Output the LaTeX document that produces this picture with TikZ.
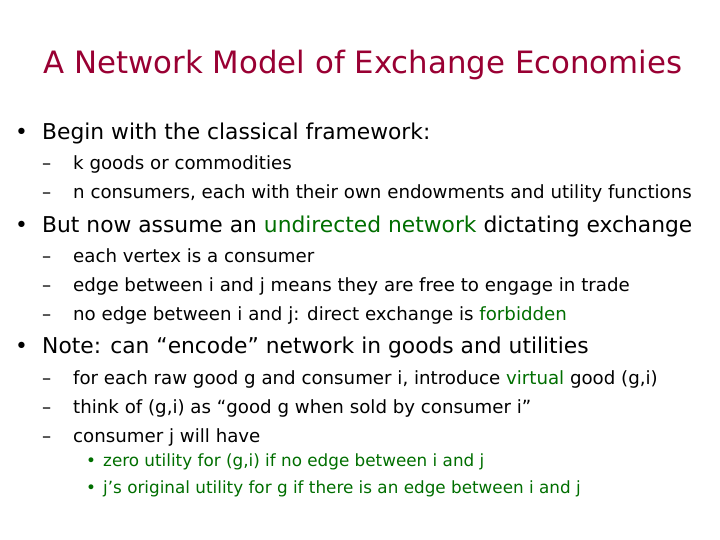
\documentclass[tikz,border=0pt]{standalone}
\usepackage{fontspec}
\setmainfont{DejaVu Sans}
\definecolor{ttl}{RGB}{153,0,51}
\definecolor{grn}{RGB}{0,110,0}
\begin{document}
\begin{tikzpicture}[x=1pt,y=1pt,
  lone/.style={anchor=base west,inner sep=0pt,font=\fontsize{21.8}{24}\selectfont},
  ltwo/.style={anchor=base west,inner sep=0pt,font=\fontsize{18.2}{20}\selectfont},
  lthree/.style={anchor=base west,inner sep=0pt,text=grn,font=\fontsize{16.8}{17}\selectfont}]
\useasboundingbox (0,0) rectangle (720,540);
\node[anchor=base,inner sep=0pt,text=ttl,font=\fontsize{30.8}{32}\selectfont] (t) at (363,466) {A Network Model of Exchange Economies};
\node[lone] (b1d) at (15,400) {•};
\node[lone] (b1) at (42,400) {Begin with the classical framework:};
\node[ltwo] (s11d) at (42,370) {–};
\node[ltwo] (s11) at (73,370) {k goods or commodities};
\node[ltwo] (s12d) at (42,341) {–};
\node[ltwo] (s12) at (73,341) {n consumers, each with their own endowments and utility functions};
\node[lone] (b2d) at (15,307) {•};
\node[lone] (b2) at (42,307) {But now assume an \textcolor{grn}{undirected network} dictating exchange};
\node[ltwo] (s21d) at (42,277) {–};
\node[ltwo] (s21) at (73,277) {each vertex is a consumer};
\node[ltwo] (s22d) at (42,248) {–};
\node[ltwo] (s22) at (73,248) {edge between i and j means they are free to engage in trade};
\node[ltwo] (s23d) at (42,219) {–};
\node[ltwo] (s23) at (73,219) {no edge between i and j: direct exchange is \textcolor{grn}{forbidden}};
\node[lone] (b3d) at (15,186) {•};
\node[lone] (b3) at (42,186) {Note: can “encode” network in goods and utilities};
\node[ltwo] (s31d) at (42,155) {–};
\node[ltwo] (s31) at (73,155) {for each raw good g and consumer i, introduce \textcolor{grn}{virtual} good (g,i)};
\node[ltwo] (s32d) at (42,126) {–};
\node[ltwo] (s32) at (73,126) {think of (g,i) as “good g when sold by consumer i”};
\node[ltwo] (s33d) at (42,97) {–};
\node[ltwo] (s33) at (73,97) {consumer j will have};
\node[lthree] (u1d) at (86,73) {•};
\node[lthree] (u1) at (103,73) {zero utility for (g,i) if no edge between i and j};
\node[lthree] (u2d) at (86,46) {•};
\node[lthree] (u2) at (103,46) {j’s original utility for g if there is an edge between i and j};
\end{tikzpicture}
\end{document}
